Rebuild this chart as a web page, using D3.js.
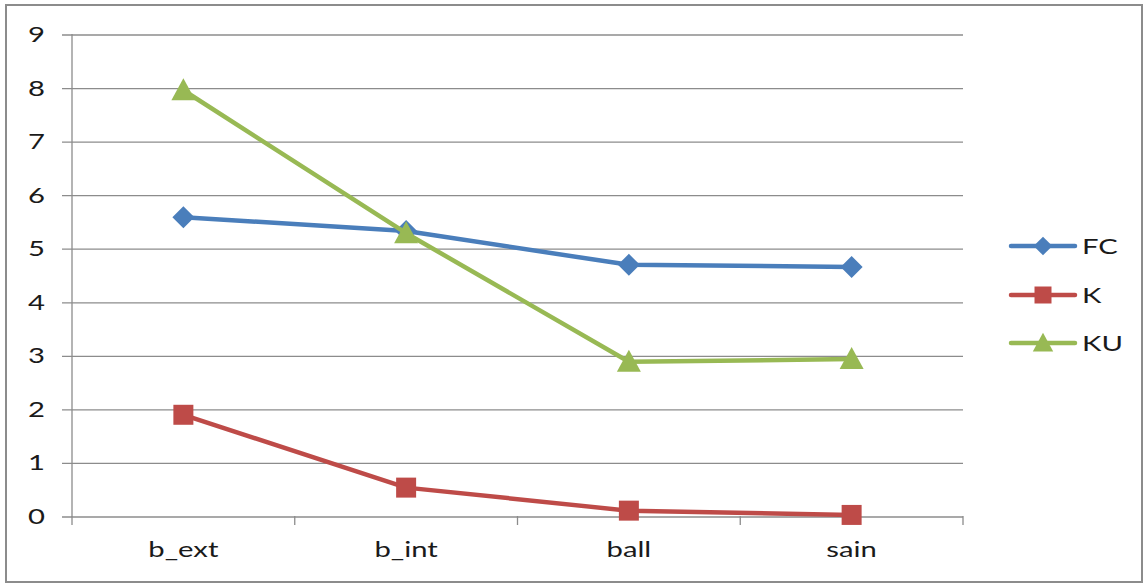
<!DOCTYPE html>
<html>
<head>
<meta charset="utf-8">
<script src="https://cdn.jsdelivr.net/npm/d3@7"></script>
<style>
  html, body { margin: 0; padding: 0; background: #fff; }
  svg { display: block; font-family: Lato, "Liberation Sans", sans-serif; }
</style>
</head>
<body>
<svg id="chart" width="1145" height="584"></svg>
<script>
// Category labels along the x axis
const categories = ["b_ext", "b_int", "ball", "sain"];
// Series values, one per category
const fcValues = [5.58, 5.32, 4.69, 4.65];
const kValues  = [1.89, 0.53, 0.10, 0.02];
const kuValues = [7.95, 5.28, 2.88, 2.93];
// Y axis tick labels
const yTicks = [0, 1, 2, 3, 4, 5, 6, 7, 8, 9];

const series = [
  { name: "FC", values: fcValues, color: "#4a7ebb", marker: "diamond" },
  { name: "K",  values: kValues,  color: "#be4b48", marker: "square" },
  { name: "KU", values: kuValues, color: "#98b954", marker: "triangle" }
];

const svg = d3.select("#chart");
const W = 1145, H = 584;
const FONT = 22, STRETCH = 1.33, TEXT = "#1a1a1a", GRID = "#8c8c8c";

// outer frame
svg.append("rect")
  .attr("x", 6).attr("y", 5).attr("width", W - 9).attr("height", H - 7)
  .attr("fill", "#fff").attr("stroke", GRID).attr("stroke-width", 2);

const plot = { left: 72, right: 963, top: 34, bottom: 516 };

const x = d3.scaleBand().domain(categories).range([plot.left, plot.right]).paddingInner(0).paddingOuter(0);
const y = d3.scaleLinear().domain([0, 9]).range([plot.bottom, plot.top]);
const cx = c => x(c) + x.bandwidth() / 2;

// wide text helper
function label(parent, tx, ty, str, anchor) {
  return parent.append("text")
    .attr("transform", `translate(${tx},${ty}) scale(${STRETCH},1)`)
    .attr("text-anchor", anchor).attr("font-size", FONT).attr("fill", TEXT)
    .text(str);
}

// horizontal gridlines with left ticks
const yAxis = d3.axisLeft(y).tickValues(yTicks).tickSize(plot.right - plot.left + 10).tickFormat("");
const gy = svg.append("g").attr("transform", `translate(${plot.right},0)`).call(yAxis);
gy.select(".domain").remove();
gy.selectAll(".tick line").attr("stroke", GRID).attr("stroke-width", 1.3).attr("transform", "translate(0,0.5)");

const gyl = svg.append("g");
yTicks.forEach(t => label(gyl, 45, y(t) + 8, String(t), "end"));

// vertical axis line
svg.append("line")
  .attr("x1", plot.left).attr("x2", plot.left)
  .attr("y1", plot.top).attr("y2", plot.bottom + 0.5)
  .attr("stroke", GRID).attr("stroke-width", 1.3);

// bottom axis: boundary ticks and category labels
const bandEdges = categories.map(c => x(c)).concat([plot.right]);
svg.append("g").selectAll("line").data(bandEdges).join("line")
  .attr("x1", d => d).attr("x2", d => d)
  .attr("y1", plot.bottom).attr("y2", plot.bottom + 9)
  .attr("stroke", GRID).attr("stroke-width", 1.3);

const gxl = svg.append("g");
categories.forEach(c => label(gxl, cx(c), 557, c, "middle"));

// marker shapes
function markerPath(type) {
  if (type === "diamond") return "M0,-11L11,0L0,11L-11,0Z";
  if (type === "square") return "M-10,-10H10V10H-10Z";
  return "M0,-12L12,10H-12Z";
}

const line = d3.line().x((d, i) => cx(categories[i])).y(d => y(d));

series.forEach(s => {
  const g = svg.append("g");
  g.append("path").datum(s.values)
    .attr("d", line).attr("fill", "none")
    .attr("stroke", s.color).attr("stroke-width", 4.5)
    .attr("stroke-linejoin", "round").attr("stroke-linecap", "round");
  g.selectAll("path.m").data(s.values).join("path").attr("class", "m")
    .attr("transform", (d, i) => `translate(${cx(categories[i])},${y(d)})`)
    .attr("d", markerPath(s.marker))
    .attr("fill", s.color);
});

// legend
const legendY = [246, 295, 343];
series.forEach((s, i) => {
  const g = svg.append("g").attr("transform", `translate(0,${legendY[i]})`);
  g.append("line").attr("x1", 1011).attr("x2", 1075).attr("y1", 0).attr("y2", 0)
    .attr("stroke", s.color).attr("stroke-width", 4.5).attr("stroke-linecap", "round");
  g.append("path").attr("transform", `translate(1043,0) scale(0.85)`)
    .attr("d", markerPath(s.marker)).attr("fill", s.color);
  label(g, 1082, 8, s.name, "start");
});
</script>
</body>
</html>
